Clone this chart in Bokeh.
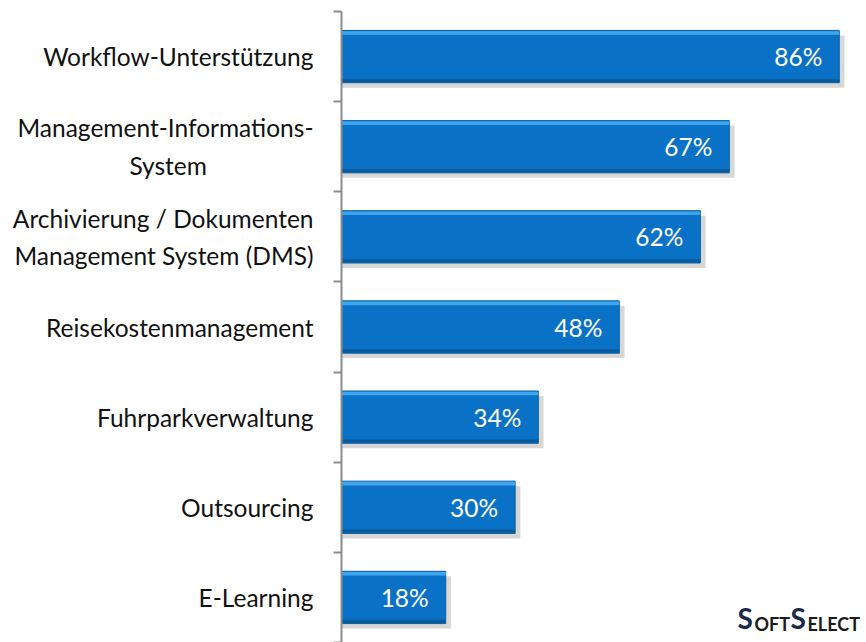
from bokeh.plotting import figure
from bokeh.models import ColumnDataSource, Range1d, FixedTicker, Label
from bokeh.transform import dodge
from bokeh.core.properties import value
from bokeh.embed import file_html
from bokeh.resources import INLINE

NB = "\u00a0"
categories = [
    "Workflow-Unterstützung",
    "Management-Informations-\nSystem" + NB * 17,
    "Archivierung / Dokumenten\nManagement System (DMS)",
    "Reisekostenmanagement",
    "Fuhrparkverwaltung",
    "Outsourcing",
    "E-Learning",
]
values = [86, 67, 62, 48, 34, 30, 18]
value_labels = ["86%", "67%", "62%", "48%", "34%", "30%", "18%"]

n = len(categories)
ypos = [n - i - 0.5 for i in range(n)]
boundaries = list(range(n + 1))

FONT = "Lato"

src = ColumnDataSource(dict(
    y=ypos,
    v=values,
    vs=[v + 0.9 for v in values],
    lab=value_labels,
))

p = figure(width=866, height=642, output_backend="svg", toolbar_location=None,
           x_range=Range1d(0, 90.7), y_range=Range1d(0, n),
           min_border_left=341, min_border_right=0, min_border_top=11,
           min_border_bottom=0)
p.xaxis.visible = False
p.grid.visible = False
p.outline_line_color = None
p.background_fill_color = "white"

# shadow
p.hbar(y=dodge("y", -0.055, range=p.y_range), left=0, right="vs", height=0.58,
       source=src, fill_color="#9a9a9a", fill_alpha=0.4, line_color=None)
# main bar
p.hbar(y="y", left=0, right="v", height=0.58, source=src,
       fill_color="#0A72C6", line_color="#0b5f9f", line_width=1)
# top highlight
p.hbar(y=dodge("y", 0.262, range=p.y_range), left=0, right="v", height=0.04,
       source=src, fill_color="#3FA6EE", line_color=None)
# bottom darker strip
p.hbar(y=dodge("y", -0.265, range=p.y_range), left=0, right="v", height=0.035,
       source=src, fill_color="#095a9a", line_color=None)

p.text(x="v", y="y", text="lab", source=src, x_offset=-17,
       text_align="right", text_baseline="middle", text_color="white",
       text_font=value(FONT), text_font_size="24.5px")

ax = p.yaxis[0]
ax.ticker = FixedTicker(ticks=ypos, minor_ticks=boundaries)
ax.major_label_overrides = {y: c for y, c in zip(ypos, categories)}
ax.major_tick_line_color = None
ax.major_tick_out = 0
ax.major_tick_in = 0
ax.major_label_standoff = 20
ax.major_label_text_font = FONT
ax.major_label_text_font_size = "24.5px"
ax.major_label_text_color = "#111111"
ax.major_label_text_line_height = 1.3
ax.minor_tick_line_color = "#8c8c8c"
ax.minor_tick_line_width = 2
ax.minor_tick_out = 8
ax.minor_tick_in = 0
ax.axis_line_color = "#8c8c8c"
ax.axis_line_width = 2

# logo
p.add_layout(Label(x=396, y=8, x_units="screen", y_units="screen",
                   text="S", text_font=FONT, text_font_style="bold",
                   text_font_size="28px", text_color="#1a2a4a"))
p.add_layout(Label(x=413, y=8, x_units="screen", y_units="screen",
                   text="OFT", text_font=FONT, text_font_style="bold",
                   text_font_size="18px", text_color="#1a1a1a"))
p.add_layout(Label(x=449, y=8, x_units="screen", y_units="screen",
                   text="S", text_font=FONT, text_font_style="bold",
                   text_font_size="28px", text_color="#1a2a4a"))
p.add_layout(Label(x=466, y=8, x_units="screen", y_units="screen",
                   text="ELECT", text_font=FONT, text_font_style="bold",
                   text_font_size="18px", text_color="#1a1a1a"))

open("out.html", "w").write(file_html(p, INLINE))
